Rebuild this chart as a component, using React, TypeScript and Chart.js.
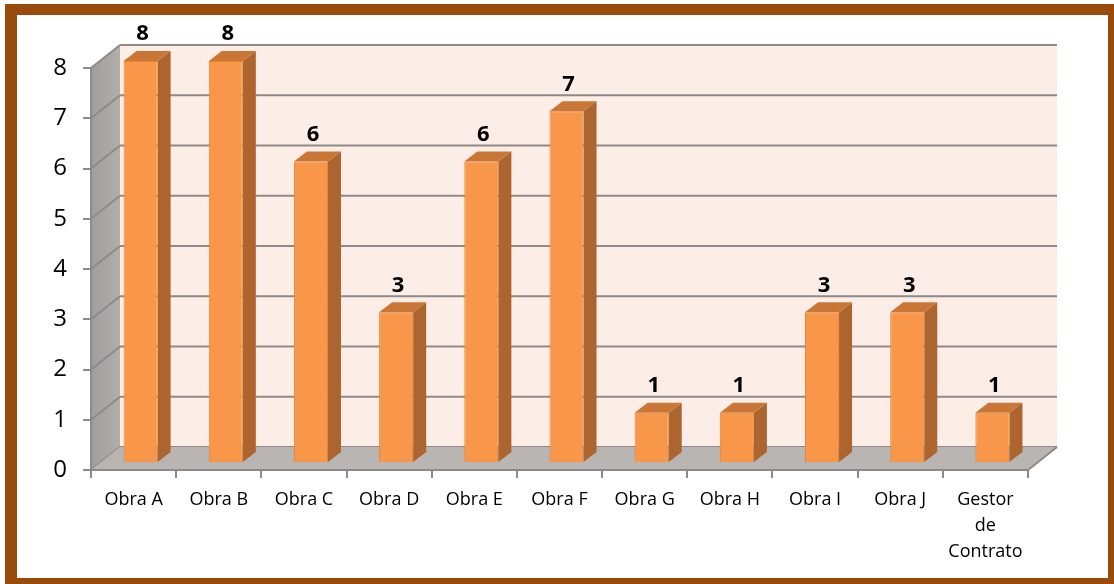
import React, { useEffect, useRef } from "react";
import { Chart, registerables } from "chart.js";

Chart.register(...registerables);

const categories: (string | string[])[] = [
  "Obra A", "Obra B", "Obra C", "Obra D", "Obra E", "Obra F",
  "Obra G", "Obra H", "Obra I", "Obra J", ["Gestor", "de", "Contrato"],
];
const values: number[] = [8, 8, 6, 3, 6, 7, 1, 1, 3, 3, 1];
const yTicks: number[] = [0, 1, 2, 3, 4, 5, 6, 7, 8];

const DEPTH_X = 29;
const DEPTH_Y = -23;
const BAR_SHIFT_X = 7;
const BAR_SHIFT_Y = -7;
const SIDE_X = 13;
const SIDE_Y = -10;

const scenePlugin = {
  id: "scene3d",
  beforeDraw(chart: any) {
    const { ctx, chartArea, scales } = chart;
    const W = chart.width, H = chart.height;
    ctx.save();
    ctx.fillStyle = "#ffffff";
    ctx.fillRect(0, 0, W, H);
    ctx.fillStyle = "#9A4A0B";
    ctx.fillRect(5, 4, W - 5, H - 4);
    ctx.fillStyle = "#ffffff";
    ctx.fillRect(17, 15, 1108 - 17, 578 - 15);

    const { left, right, top, bottom } = chartArea;
    const y = scales.y;
    ctx.fillStyle = "#FCEEE7";
    ctx.fillRect(left + DEPTH_X, top + DEPTH_Y, right - left, bottom - top);
    const g = ctx.createLinearGradient(left, 0, left + DEPTH_X, 0);
    g.addColorStop(0, "#A19D9B");
    g.addColorStop(1, "#B2AEAC");
    ctx.fillStyle = g;
    ctx.beginPath();
    ctx.moveTo(left, bottom);
    ctx.lineTo(left, top);
    ctx.lineTo(left + DEPTH_X, top + DEPTH_Y);
    ctx.lineTo(left + DEPTH_X, bottom + DEPTH_Y);
    ctx.closePath();
    ctx.fill();
    ctx.strokeStyle = "#8D8A89";
    ctx.lineWidth = 2;
    yTicks.forEach((v) => {
      const py = y.getPixelForValue(v);
      ctx.beginPath();
      ctx.moveTo(left + DEPTH_X, py + DEPTH_Y);
      ctx.lineTo(right + DEPTH_X, py + DEPTH_Y);
      ctx.stroke();
      ctx.beginPath();
      ctx.moveTo(left, py);
      ctx.lineTo(left + DEPTH_X, py + DEPTH_Y);
      ctx.stroke();
    });
    ctx.fillStyle = "#B9B5B3";
    ctx.beginPath();
    ctx.moveTo(left, bottom);
    ctx.lineTo(right, bottom);
    ctx.lineTo(right + DEPTH_X, bottom + DEPTH_Y);
    ctx.lineTo(left + DEPTH_X, bottom + DEPTH_Y);
    ctx.closePath();
    ctx.fill();
    ctx.beginPath();
    ctx.moveTo(right, bottom);
    ctx.lineTo(right + DEPTH_X, bottom + DEPTH_Y);
    ctx.stroke();
    ctx.restore();
  },
  beforeDatasetsDraw(chart: any) {
    const { ctx } = chart;
    const meta = chart.getDatasetMeta(0);
    ctx.save();
    meta.data.forEach((bar: any) => {
      const w = bar.width;
      const l = bar.x - w / 2 + BAR_SHIFT_X;
      const r = bar.x + w / 2 + BAR_SHIFT_X;
      const t = bar.y + BAR_SHIFT_Y;
      const b = bar.base + BAR_SHIFT_Y;
      ctx.fillStyle = "#AD6530";
      ctx.beginPath();
      ctx.moveTo(r, b);
      ctx.lineTo(r, t);
      ctx.lineTo(r + SIDE_X, t + SIDE_Y);
      ctx.lineTo(r + SIDE_X, b + SIDE_Y);
      ctx.closePath();
      ctx.fill();
      ctx.fillStyle = "#C97636";
      ctx.beginPath();
      ctx.moveTo(l, t);
      ctx.lineTo(l + SIDE_X, t + SIDE_Y);
      ctx.lineTo(r + SIDE_X, t + SIDE_Y);
      ctx.lineTo(r, t);
      ctx.closePath();
      ctx.fill();
    });
    ctx.restore();
    ctx.save();
    ctx.translate(BAR_SHIFT_X, BAR_SHIFT_Y);
  },
  afterDatasetsDraw(chart: any) {
    const { ctx } = chart;
    ctx.restore();
    const meta = chart.getDatasetMeta(0);
    ctx.save();
    ctx.fillStyle = "#000000";
    ctx.font = "bold 22px 'Open Sans'";
    ctx.textAlign = "center";
    ctx.textBaseline = "middle";
    meta.data.forEach((bar: any, i: number) => {
      ctx.fillText(String(values[i]), bar.x + 9, bar.y - 34);
    });
    ctx.restore();
  },
};

export default function App() {
  const ref = useRef<HTMLCanvasElement | null>(null);
  useEffect(() => {
    if (!ref.current) return;
    const chart = new Chart(ref.current, {
      type: "bar",
      data: {
        labels: categories,
        datasets: [
          {
            data: values,
            backgroundColor: "#F8974A",
            borderColor: "#E6843A",
            borderWidth: 1,
            barPercentage: 0.4,
            categoryPercentage: 1.0,
            clip: false as any,
          },
        ],
      },
      options: {
        responsive: false,
        animation: false,
        devicePixelRatio: 1,
        layout: { padding: { left: 0, right: 86, top: 68, bottom: 0 } },
        plugins: { legend: { display: false }, tooltip: { enabled: false } },
        scales: {
          x: {
            offset: true,
            grid: {
              offset: true,
              drawOnChartArea: false,
              drawTicks: true,
              tickLength: 8,
              color: "#8D8A89",
              lineWidth: 2,
            },
            border: { display: true, color: "#8D8A89", width: 2 },
            ticks: {
              color: "#000000",
              font: { family: "'Open Sans'", size: 18, lineHeight: 1.45 },
              padding: 9,
              maxRotation: 0,
              autoSkip: false,
            },
            afterFit: (s: any) => {
              s.height = 114;
            },
          },
          y: {
            min: 0,
            max: 8,
            grid: {
              drawOnChartArea: false,
              drawTicks: true,
              tickLength: 8,
              color: "#8D8A89",
              lineWidth: 2,
            },
            border: { display: true, color: "#8D8A89", width: 2 },
            ticks: {
              stepSize: 1,
              color: "#000000",
              font: { family: "'Open Sans'", size: 24 },
              padding: 16,
            },
            afterFit: (s: any) => {
              s.width = 91;
            },
          },
        },
      },
      plugins: [scenePlugin],
    });
    return () => chart.destroy();
  }, []);
  return (
    <div style={{ position: "absolute", left: 0, top: 0, width: 1114, height: 584 }}>
      <canvas ref={ref} width={1114} height={584} style={{ display: "block" }} />
    </div>
  );
}
